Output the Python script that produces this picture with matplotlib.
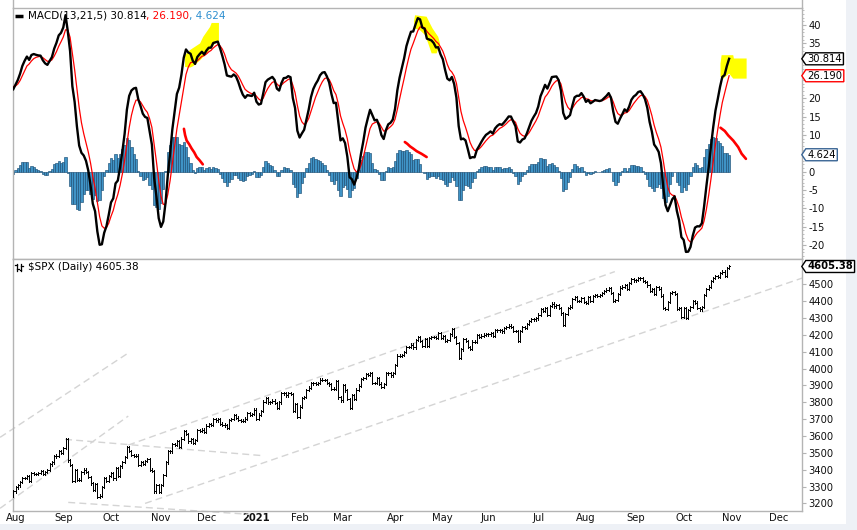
import numpy as np
import pandas as pd
import matplotlib
matplotlib.use("Agg")
import matplotlib.pyplot as plt
from matplotlib.collections import LineCollection
from matplotlib.patches import Polygon, Rectangle
from matplotlib.lines import Line2D
from matplotlib.ticker import FixedLocator, MultipleLocator
import matplotlib.transforms as mtransforms

plt.rcParams['font.family'] = ['DejaVu Sans']
plt.rcParams['axes.unicode_minus'] = False

# ---------------- data: S&P 500 daily closes (May 2020 - Oct 2021) ----------------
c_2020_05 = [2830, 2843, 2868, 2849, 2881, 2930, 2930, 2870, 2820, 2852, 2864, 2954, 2922, 2972,
             2949, 2955, 2992, 3036, 3030, 3044]
c_2020_06 = [3055, 3081, 3122, 3112, 3194, 3232, 3207, 3190, 3002, 3041, 3067, 3125, 3113, 3115,
             3098, 3118, 3131, 3050, 3084, 3009, 3053, 3100]
c_2020_07 = [3115, 3130, 3179, 3145, 3169, 3152, 3185, 3155, 3197, 3227, 3215, 3224, 3251, 3257,
             3276, 3236, 3216, 3239, 3218, 3258, 3246, 3271]
c_2020_08 = [3295, 3307, 3327, 3349, 3351, 3360, 3333, 3380, 3373, 3373, 3381, 3390, 3375, 3385,
             3397, 3431, 3443, 3479, 3484, 3508, 3500]
c_2020_09 = [3527, 3580, 3455, 3427, 3332, 3399, 3340, 3341, 3384, 3401, 3385, 3357, 3319, 3281,
             3315, 3237, 3246, 3298, 3351, 3335, 3363]
c_2020_10 = [3380, 3348, 3408, 3361, 3419, 3447, 3477, 3534, 3512, 3489, 3483, 3484, 3427, 3443,
             3435, 3453, 3465, 3401, 3391, 3271, 3310, 3270]
c_2020_11 = [3310, 3370, 3443, 3510, 3509, 3550, 3545, 3572, 3537, 3585, 3627, 3610, 3568, 3582,
             3558, 3578, 3635, 3629, 3638, 3622]
c_2020_12 = [3662, 3669, 3666, 3699, 3692, 3702, 3673, 3668, 3663, 3647, 3695, 3702, 3722, 3709,
             3695, 3687, 3691, 3703, 3735, 3727, 3732, 3756]
c_2021_01 = [3701, 3727, 3748, 3804, 3825, 3799, 3802, 3810, 3795, 3768, 3799, 3852, 3853, 3841,
             3855, 3849, 3751, 3788, 3714]
c_2021_02 = [3774, 3826, 3831, 3872, 3887, 3915, 3912, 3910, 3916, 3934, 3933, 3932, 3914, 3906,
             3877, 3881, 3925, 3829, 3811]
c_2021_03 = [3901, 3870, 3820, 3768, 3842, 3821, 3875, 3899, 3939, 3943, 3969, 3963, 3974, 3915,
             3913, 3941, 3911, 3889, 3910, 3975, 3971, 3959, 3973]
c_2021_04 = [4020, 4077, 4074, 4080, 4097, 4129, 4128, 4142, 4125, 4170, 4185, 4163, 4135, 4173,
             4135, 4180, 4188, 4187, 4183, 4211, 4181]
c_2021_05 = [4193, 4165, 4168, 4202, 4233, 4189, 4152, 4063, 4113, 4174, 4163, 4128, 4116, 4160,
             4156, 4197, 4188, 4196, 4201, 4204]
c_2021_06 = [4202, 4208, 4192, 4230, 4226, 4227, 4220, 4239, 4247, 4255, 4246, 4224, 4222, 4166,
             4224, 4246, 4242, 4266, 4281, 4291, 4291, 4297]
c_2021_07 = [4320, 4352, 4344, 4358, 4320, 4370, 4385, 4369, 4375, 4361, 4327, 4259, 4323, 4359,
             4368, 4412, 4422, 4401, 4400, 4419, 4395]
c_2021_08 = [4387, 4423, 4403, 4429, 4437, 4432, 4436, 4447, 4460, 4468, 4479, 4449, 4400, 4406,
             4442, 4480, 4486, 4497, 4470, 4509, 4529, 4523]
c_2021_09 = [4524, 4537, 4535, 4520, 4514, 4493, 4459, 4469, 4443, 4481, 4474, 4433, 4358, 4354,
             4396, 4449, 4455, 4443, 4353, 4360, 4308]
c_2021_10 = [4357, 4301, 4346, 4364, 4399, 4391, 4361, 4351, 4364, 4438, 4471, 4486, 4520, 4537,
             4549, 4545, 4567, 4575, 4551, 4597, 4605.38]

market_holidays = ['2020-05-25', '2020-07-03', '2020-09-07', '2020-11-26', '2020-12-25',
                   '2021-01-01', '2021-01-18', '2021-02-15', '2021-04-02', '2021-05-31',
                   '2021-07-05', '2021-09-06', '2021-11-25', '2021-12-24']

first_visible = '2020-07-31'
axis_origin = '2020-08-03'

macd_label_values = ['30.814', '26.190', '4.624']
last_price_label = '4605.38'

month_labels = ['Aug', 'Sep', 'Oct', 'Nov', 'Dec', '2021', 'Feb', 'Mar', 'Apr', 'May', 'Jun',
                'Jul', 'Aug', 'Sep', 'Oct', 'Nov', 'Dec']
month_starts = pd.date_range('2020-08-01', '2021-12-01', freq='MS')

macd_ticks = list(range(-20, 45, 5))
macd_hidden_labels = [30, 25, 5]          # covered by the value boxes
price_ticks = list(range(3200, 4600, 100))

# hand-drawn trendlines on price panel: (trading-day, price) pairs
trendlines = [((-6.8, 3592), (48.9, 4086)),
              ((-6.8, 3171), (49.6, 3718)),
              ((21.8, 3580), (109.0, 3483)),
              ((23.2, 3206), (103.2, 3135)),
              ((49.6, 3546), (263.7, 4575)),
              ((57.0, 3200), (346.2, 4537))]

# hand-drawn highlights on MACD panel: (trading-day, MACD) points
yellow_marks = [
    [(74.6, 28.6), (74.6, 31.8), (76.8, 33.2), (81.2, 35.0), (82.6, 36.8), (85.6, 39.5), (86.3, 40.6),
     (89.5, 40.6), (89.5, 35.4), (87.8, 35.0), (84.1, 32.3), (81.2, 30.4), (78.2, 28.8), (76.8, 28.4)],
    [(175.8, 42.7), (180.9, 42.3), (182.0, 40.9), (183.5, 39.1), (186.0, 36.8), (186.8, 35.0),
     (185.3, 32.3), (183.1, 32.3), (181.6, 35.0), (180.2, 37.3), (178.0, 38.6), (175.8, 39.1), (175.3, 40.9)],
    [(310.7, 31.8), (315.8, 31.8), (316.1, 30.9), (321.7, 30.9), (321.7, 25.4), (315.8, 25.4),
     (314.0, 26.8), (311.4, 25.4), (310.2, 25.9), (310.2, 29.5)],
]
red_marks = [
    [(74.1, 11.7), (74.6, 10.0), (75.3, 8.5), (76.4, 7.5), (77.5, 6.3), (78.6, 5.3), (79.7, 4.0), (81.0, 3.1), (82.4, 2.0)],
    [(171.3, 8.1), (172.4, 7.6), (173.6, 6.9), (175.0, 6.3), (176.5, 5.6), (178.6, 4.9), (180.9, 4.0)],
    [(310.2, 12.0), (312.1, 11.1), (313.6, 9.9), (315.8, 8.5), (318.0, 6.7), (319.5, 4.9), (321.4, 3.5)],
]

# ---------------- calendar / indicators ----------------
closes = np.array(c_2020_05 + c_2020_06 + c_2020_07 + c_2020_08 + c_2020_09 + c_2020_10 + c_2020_11 +
                  c_2020_12 + c_2021_01 + c_2021_02 + c_2021_03 + c_2021_04 + c_2021_05 + c_2021_06 +
                  c_2021_07 + c_2021_08 + c_2021_09 + c_2021_10, dtype=float)
cal = pd.bdate_range('2020-05-01', '2021-12-31')
cal = cal[~cal.isin(pd.to_datetime(market_holidays))]
n = len(closes)
origin = cal.get_loc(pd.Timestamp(axis_origin))
xall = np.arange(len(cal)) - origin
x = xall[:n]

s = pd.Series(closes)
macd = (s.ewm(span=13, adjust=False).mean() - s.ewm(span=21, adjust=False).mean()).values
signal = pd.Series(macd).ewm(span=5, adjust=False).mean().values
hist = macd - signal

vis = x >= (cal.get_loc(pd.Timestamp(first_visible)) - origin)

# ---------------- figure ----------------
W, H = 857, 530
fig = plt.figure(figsize=(W / 100, H / 100), dpi=100)
fig.patch.set_facecolor('white')
def fx(px): return px / W
def fy(py): return 1 - py / H

L, R = 12.7, 802.3
ax1 = fig.add_axes([fx(L), fy(258.5), fx(R) - fx(L), fy(8.3) - fy(258.5)])
ax2 = fig.add_axes([fx(L), fy(511), fx(R) - fx(L), fy(259.3) - fy(511)])

xlim = (-1.25, 346.2)
spine_c = '#b4b4b4'
for ax in (ax1, ax2):
    ax.set_xlim(*xlim)
    for sp in ax.spines.values():
        sp.set_color(spine_c)
        sp.set_linewidth(1.0)
    ax.yaxis.tick_right()
    ax.tick_params(axis='y', which='major', direction='out', length=3, width=0.8, color=spine_c,
                   pad=1.5, labelsize=7.2, labelcolor='#111111')
    ax.tick_params(axis='y', which='minor', direction='out', length=1.5, width=0.6, color=spine_c)
    ax.tick_params(axis='x', length=0)

# ---- MACD panel ----
ax1.set_ylim(-23.7, 44.6)
ax1.yaxis.set_major_locator(FixedLocator(macd_ticks))
ax1.set_yticklabels(['' if t in macd_hidden_labels else str(t) for t in macd_ticks])
ax1.yaxis.set_minor_locator(MultipleLocator(1))
ax1.set_xticks([])
ax1.bar(x[vis], hist[vis], width=1.0, color='#3f93c6', edgecolor='#1d4f75', linewidth=0.45, zorder=2)
for pts in yellow_marks:
    ax1.add_patch(Polygon(pts, closed=True, facecolor='#ffff00', edgecolor='none', zorder=3))
ax1.plot(x[vis], signal[vis], color='#ff0000', lw=0.9, zorder=4)
ax1.plot(x[vis], macd[vis], color='black', lw=1.7, zorder=5)
for pts in red_marks:
    px_, py_ = zip(*pts)
    ax1.plot(px_, py_, color='#ff0000', lw=1.9, zorder=6, solid_capstyle='round')

# ---- price panel ----
ax2.set_ylim(3155, 4648)
ax2.yaxis.set_major_locator(FixedLocator(price_ticks))
pad = 7.0
segs = []
idx = np.where(vis)[0]
for i in idx:
    o = closes[i - 1]
    c = closes[i]
    xi = x[i]
    segs.append([(xi, min(o, c) - pad), (xi, max(o, c) + pad)])
    segs.append([(xi - 0.45, o), (xi, o)])
    segs.append([(xi, c), (xi + 0.45, c)])
ax2.add_collection(LineCollection(segs, colors='black', linewidths=0.72, antialiaseds=False, zorder=4))

for (x0, p0), (x1, p1) in trendlines:
    ax2.add_line(Line2D([x0, x1], [p0, p1], color='#d4d4d4', lw=1.0, dashes=(5, 3), zorder=2,
                        clip_on=False))

tick_pos = [xall[cal.searchsorted(m)] for m in month_starts]
ax2.set_xticks(tick_pos)
ax2.set_xticklabels(month_labels, fontsize=7.2, color='#111111')
ax2.tick_params(axis='x', pad=1.5)
for lab in ax2.get_xticklabels():
    if lab.get_text() == '2021':
        lab.set_fontweight('bold')

# ---- background strips ----
fig.add_artist(Rectangle((fx(846), 0), 1 - fx(846), 1, transform=fig.transFigure,
                         facecolor='#eef1f6', edgecolor='none', zorder=-5))
fig.add_artist(Rectangle((0, 0), 1, fy(524), transform=fig.transFigure,
                         facecolor='#eef1f6', edgecolor='none', zorder=-5))
for xx in (L, R):
    fig.add_artist(Line2D([fx(xx), fx(xx)], [fy(8.3), 1], transform=fig.transFigure,
                          color=spine_c, lw=1.0))

# ---- legends ----
renderer = fig.canvas.get_renderer()
ident = mtransforms.IdentityTransform()

def seq_text(x_px, y_px, parts, size=7.5):
    xd = x_px
    yd = H - y_px
    for txt, col in parts:
        t = fig.text(xd, yd, txt, transform=ident, color=col, fontsize=size, ha='left', va='center')
        xd += t.get_window_extent(renderer).width

fig.add_artist(Line2D([fx(15), fx(22.5)], [fy(15.5), fy(15.5)], transform=fig.transFigure,
                      color='black', lw=2.5, solid_capstyle='butt'))
seq_text(27.5, 15.5, [('MACD(13,21,5) ' + macd_label_values[0], 'black'),
                      (', ' + macd_label_values[1], '#ff0000'),
                      (', ' + macd_label_values[2], '#2e8fd0')])

# SPX icon (small OHLC glyph)
for (bx, y0, y1, yo, yc) in [(17, 263.5, 270.5, 265, 269), (21, 264, 271, 270, 265.5)]:
    fig.add_artist(Line2D([fx(bx), fx(bx)], [fy(y0), fy(y1)], transform=fig.transFigure, color='black', lw=0.9))
    fig.add_artist(Line2D([fx(bx - 1.5), fx(bx)], [fy(yo), fy(yo)], transform=fig.transFigure, color='black', lw=0.9))
    fig.add_artist(Line2D([fx(bx), fx(bx + 1.5)], [fy(yc), fy(yc)], transform=fig.transFigure, color='black', lw=0.9))
seq_text(27.5, 267.3, [('$SPX (Daily) ' + last_price_label, 'black')])

# ---- value boxes on right axis ----
def value_box(ax, val, txt, color, weight='normal'):
    xd = ax.transAxes.transform((1, 0))[0] + 5
    yd = ax.transData.transform((0, val))[1]
    t = fig.text(xd, yd, txt, transform=ident, ha='left', va='center', fontsize=7.2,
                 fontweight=weight, color='black', zorder=11)
    bb = t.get_window_extent(renderer)
    x0, x1 = bb.x0 - 1.5, bb.x1 + 1.5
    y0, y1 = yd - 6, yd + 6
    poly = Polygon([[x0, y0], [x1, y0], [x1, y1], [x0, y1], [x0 - 4, yd]], closed=True,
                   transform=ident, facecolor='white', edgecolor=color, lw=1.0, zorder=10)
    fig.add_artist(poly)

value_box(ax1, float(macd_label_values[0]), macd_label_values[0], 'black')
value_box(ax1, float(macd_label_values[1]), macd_label_values[1], '#ff0000')
value_box(ax1, float(macd_label_values[2]), macd_label_values[2], '#3a6595')
value_box(ax2, float(last_price_label), last_price_label, 'black', weight='bold')

fig.savefig('out.png', dpi=100)
